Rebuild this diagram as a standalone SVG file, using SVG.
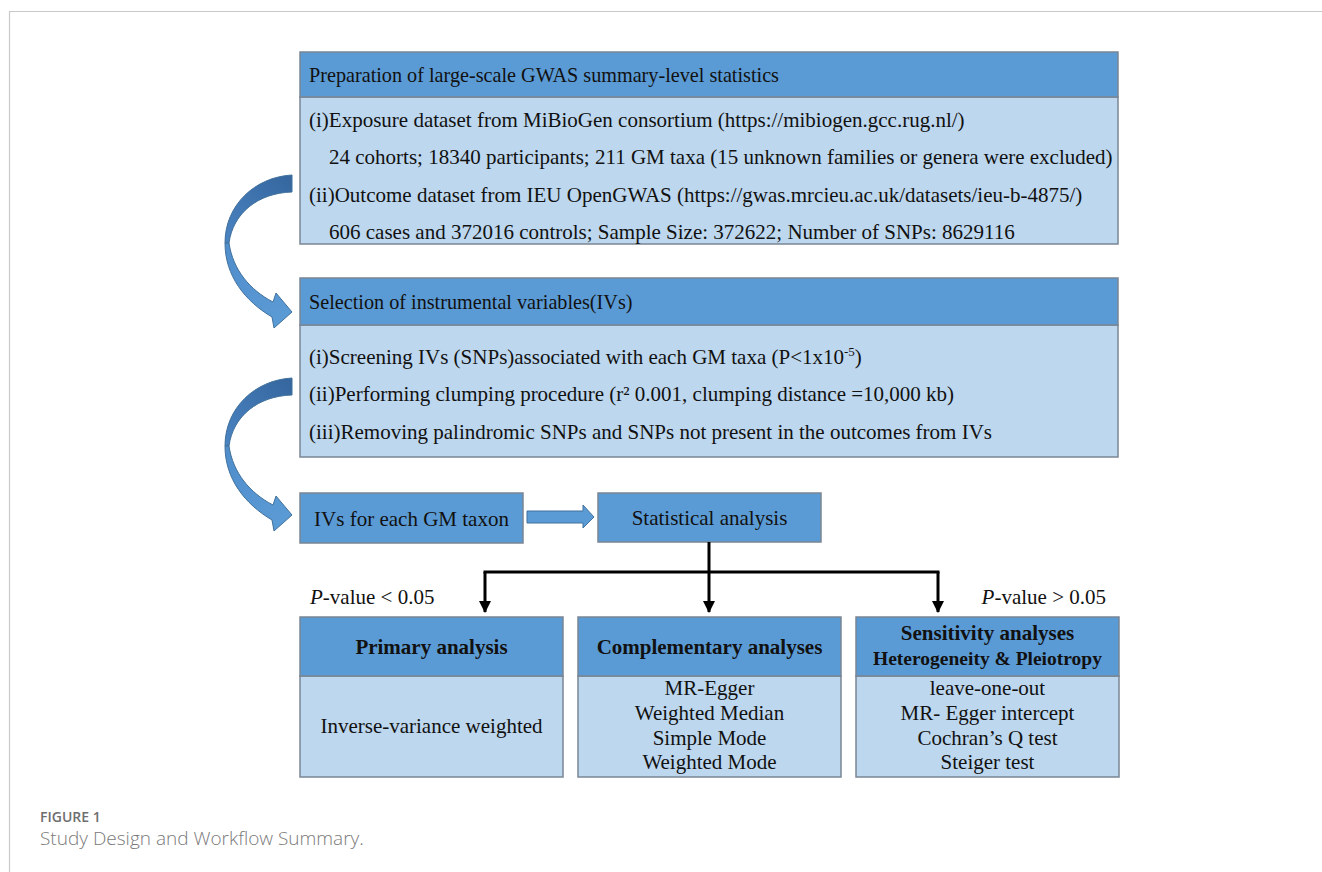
<svg xmlns="http://www.w3.org/2000/svg" width="1322" height="872" viewBox="0 0 1322 872">
<style>
  .hdr { fill: #5b9bd5; stroke: #7a8694; stroke-width: 1.5; }
  .bdy { fill: #bdd7ee; stroke: #7a8694; stroke-width: 1.5; }
  .t { font-family: "Liberation Serif", "Times New Roman", serif; font-size: 21px; fill: #111; }
  .th { font-family: "Liberation Serif", "Times New Roman", serif; font-size: 20.2px; fill: #111; }
  .tb { font-family: "Liberation Serif", "Times New Roman", serif; font-size: 21px; font-weight: bold; fill: #111; }
  .tbs { font-family: "Liberation Serif", "Times New Roman", serif; font-size: 19.5px; font-weight: bold; fill: #111; }
  .c { text-anchor: middle; }
  .line { fill: none; stroke: #000; stroke-width: 3; }
  .blk { fill: #5b9bd5; stroke: #41719c; stroke-width: 1; }
  .cap1 { font-family: "Open Sans", "Noto Sans", sans-serif; font-size: 14px; font-weight: 600; fill: #6e6e6e; }
  .cap2 { font-family: "Open Sans", "Noto Sans", sans-serif; font-size: 19px; font-weight: 300; fill: #7a7a7a; }
</style>
<defs>
  <marker id="ah" markerUnits="userSpaceOnUse" markerWidth="12" markerHeight="12" refX="11" refY="6" orient="auto">
    <path d="M0,0 L12,6 L0,12 Z" fill="#000"/>
  </marker>
  <linearGradient id="gUp" x1="292" y1="183" x2="225" y2="243" gradientUnits="userSpaceOnUse">
    <stop offset="0" stop-color="#36679f"/>
    <stop offset="1" stop-color="#4a84c2"/>
  </linearGradient>
  <linearGradient id="gLo" x1="226" y1="243" x2="290" y2="315" gradientUnits="userSpaceOnUse">
    <stop offset="0" stop-color="#4f8dcb"/>
    <stop offset="1" stop-color="#5b9bd5"/>
  </linearGradient>
  <g id="curv">
    <path d="M292,175 C255,177 225,205 225,243 L229,243 C233,213 258,193 292,192 Z" fill="url(#gUp)" stroke="#41719c" stroke-width="1"/>
    <path d="M225,243 C225,276 245,301 272,317 L274,328 L292,312 L276,293 L273,302 C250,290 233,270 229,243 Z" fill="url(#gLo)" stroke="#41719c" stroke-width="1"/>
  </g>
</defs>

<rect width="1322" height="872" fill="#fff"/>
<path d="M9.5,872 V11.5 H1322" fill="none" stroke="#c8c8c8" stroke-width="1.2"/>

<g id="box1">
  <rect class="bdy" x="300" y="97" width="818" height="147"/>
  <rect class="hdr" x="300" y="52" width="818" height="45"/>
  <text class="th" x="309" y="82">Preparation of large-scale GWAS summary-level statistics</text>
  <text class="t" x="309" y="127">(i)Exposure dataset from MiBioGen consortium (https://mibiogen.gcc.rug.nl/)</text>
  <text class="t" x="329" y="164">24 cohorts; 18340 participants; 211 GM taxa (15 unknown families or genera were excluded)</text>
  <text class="t" x="309" y="202">(ii)Outcome dataset from IEU OpenGWAS (https://gwas.mrcieu.ac.uk/datasets/ieu-b-4875/)</text>
  <text class="t" x="329" y="239">606 cases and 372016 controls; Sample Size: 372622; Number of SNPs: 8629116</text>
</g>

<g id="box2">
  <rect class="bdy" x="300" y="325" width="818" height="132"/>
  <rect class="hdr" x="300" y="278" width="818" height="47"/>
  <text class="th" x="309" y="309">Selection of instrumental variables(IVs)</text>
  <text class="t" x="309" y="364">(i)Screening IVs (SNPs)associated with each GM taxa (P&lt;1x10<tspan font-size="13" dy="-8">-5</tspan><tspan dy="8">)</tspan></text>
  <text class="t" x="309" y="401">(ii)Performing clumping procedure (r² 0.001, clumping distance =10,000 kb)</text>
  <text class="t" x="309" y="439">(iii)Removing palindromic SNPs and SNPs not present in the outcomes from IVs</text>
</g>

<g id="ivs">
  <rect class="hdr" x="300" y="493" width="223" height="50"/>
  <text class="t c" x="411.5" y="526">IVs for each GM taxon</text>
</g>

<g id="stat">
  <rect class="hdr" x="598" y="493" width="223" height="49"/>
  <text class="t c" x="709.5" y="525">Statistical analysis</text>
</g>

<g id="primary">
  <rect class="bdy" x="300" y="676" width="263" height="101"/>
  <rect class="hdr" x="300" y="617" width="263" height="59"/>
  <text class="tb c" x="431.5" y="654">Primary analysis</text>
  <text class="t c" x="431.5" y="733">Inverse-variance weighted</text>
</g>

<g id="complementary">
  <rect class="bdy" x="578" y="676" width="263" height="101"/>
  <rect class="hdr" x="578" y="617" width="263" height="59"/>
  <text class="tb c" x="709.5" y="654">Complementary analyses</text>
  <text class="t c" x="709.5" y="695">MR-Egger</text>
  <text class="t c" x="709.5" y="720">Weighted Median</text>
  <text class="t c" x="709.5" y="745">Simple Mode</text>
  <text class="t c" x="709.5" y="769">Weighted Mode</text>
</g>

<g id="sensitivity">
  <rect class="bdy" x="856" y="676" width="263" height="101"/>
  <rect class="hdr" x="856" y="617" width="263" height="59"/>
  <text class="tb c" x="987.5" y="640">Sensitivity analyses</text>
  <text class="tbs c" x="987.5" y="665">Heterogeneity &amp; Pleiotropy</text>
  <text class="t c" x="987.5" y="695">leave-one-out</text>
  <text class="t c" x="987.5" y="720">MR- Egger intercept</text>
  <text class="t c" x="987.5" y="745">Cochran’s Q test</text>
  <text class="t c" x="987.5" y="769">Steiger test</text>
</g>

<g id="connectors">
  <use href="#curv"/>
  <use href="#curv" transform="translate(0,203)"/>
  <polygon class="blk" points="527,511 583,511 583,505 594,517 583,528 583,523 527,523"/>
  <path class="line" d="M709,542 V572"/>
  <path class="line" d="M485,572 H938" stroke-linecap="square"/>
  <path class="line" d="M485,572 V612" marker-end="url(#ah)"/>
  <path class="line" d="M709,572 V612" marker-end="url(#ah)"/>
  <path class="line" d="M938,572 V612" marker-end="url(#ah)"/>
  <text class="t" x="310" y="604"><tspan font-style="italic">P</tspan>-value &lt; 0.05</text>
  <text class="t" x="1106" y="604" text-anchor="end"><tspan font-style="italic">P</tspan>-value &gt; 0.05</text>
</g>

<g id="caption">
  <text class="cap1" x="40" y="822">FIGURE 1</text>
  <text class="cap2" x="40" y="845">Study Design and Workflow Summary.</text>
</g>
</svg>
